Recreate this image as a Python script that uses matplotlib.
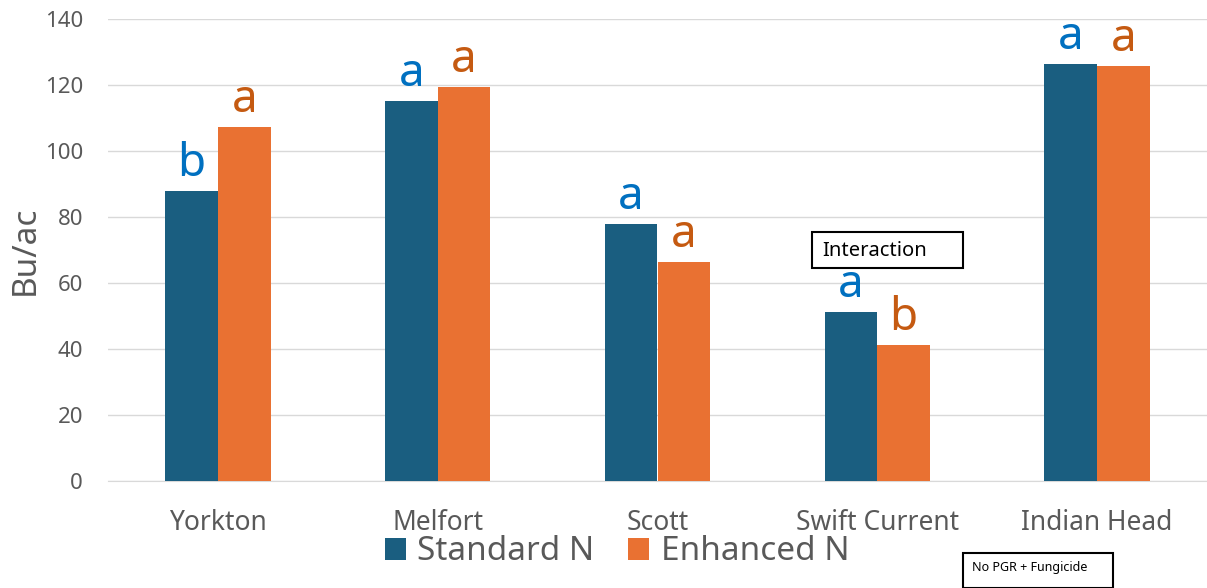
import matplotlib.pyplot as plt
import numpy as np
from matplotlib.patches import Rectangle

plt.rcParams['font.family'] = ['Noto Sans', 'DejaVu Sans']

# data
locations = ["Yorkton", "Melfort", "Scott", "Swift Current", "Indian Head"]
standard_n = [88, 115.2, 78, 51.3, 126.4]
enhanced_n = [107.4, 119.5, 66.5, 41.3, 125.9]
standard_letters = ["b", "a", "a", "a", "a"]
enhanced_letters = ["a", "a", "a", "b", "a"]

BLUE = "#1a5e80"
ORANGE = "#e97132"
BLUE_TXT = "#0070c0"
ORANGE_TXT = "#c55a11"
GREY = "#595959"

fig = plt.figure(figsize=(12.07, 5.88), dpi=100)
ax = fig.add_axes([108 / 1207, 1 - 481 / 588, 1 - 108 / 1207, (481 - 19) / 588])

x = np.arange(len(locations))
width = 0.24

ax.bar(x - width / 2, standard_n, width, color=BLUE, label="Standard N", zorder=3)
ax.bar(x + width / 2, enhanced_n, width, color=ORANGE, label="Enhanced N", zorder=3)

for i in range(len(locations)):
    ax.text(x[i] - width / 2, standard_n[i] + 1.2, standard_letters[i],
            ha="center", va="bottom", fontsize=33, color=BLUE_TXT)
    ax.text(x[i] + width / 2, enhanced_n[i] + 1.2, enhanced_letters[i],
            ha="center", va="bottom", fontsize=33, color=ORANGE_TXT)

ax.set_xlim(-0.5, len(locations) - 0.5)
ax.set_ylim(0, 140)
ax.set_yticks(range(0, 141, 20))
ax.set_xticks(x)
ax.set_xticklabels(locations)
ax.tick_params(axis="y", labelsize=16, labelcolor=GREY, length=0, pad=18)
ax.tick_params(axis="x", labelsize=19, labelcolor=GREY, length=0, pad=20)
ax.set_ylabel("Bu/ac", fontsize=24, color=GREY, labelpad=2)

ax.grid(axis="y", color="#d9d9d9", linewidth=1, zorder=0)
for side in ["top", "right", "left"]:
    ax.spines[side].set_visible(False)
ax.spines["bottom"].set_color("#d9d9d9")

fig.legend(loc="center", bbox_to_anchor=(617 / 1207, 1 - 552 / 588), ncol=2,
           frameon=False, fontsize=24, handlelength=0.63, handleheight=0.63,
           handletextpad=0.35, columnspacing=1.0, labelcolor=GREY,
           borderpad=0, borderaxespad=0)

# text boxes
fig.add_artist(Rectangle((812 / 1207, 1 - 268 / 588), 151 / 1207, 36 / 588,
                         transform=fig.transFigure, fill=False,
                         edgecolor="black", linewidth=1.5))
fig.text(822 / 1207, 1 - 251 / 588, "Interaction", fontsize=14.5,
         va="center", ha="left", color="black")

fig.add_artist(Rectangle((963 / 1207, 1 - 588 / 588), 150 / 1207, 35 / 588,
                         transform=fig.transFigure, fill=False,
                         edgecolor="black", linewidth=1.5))
fig.text(972 / 1207, 1 - 567 / 588, "No PGR + Fungicide", fontsize=9,
         va="center", ha="left", color="black")

fig.savefig("out.png", dpi=100)
